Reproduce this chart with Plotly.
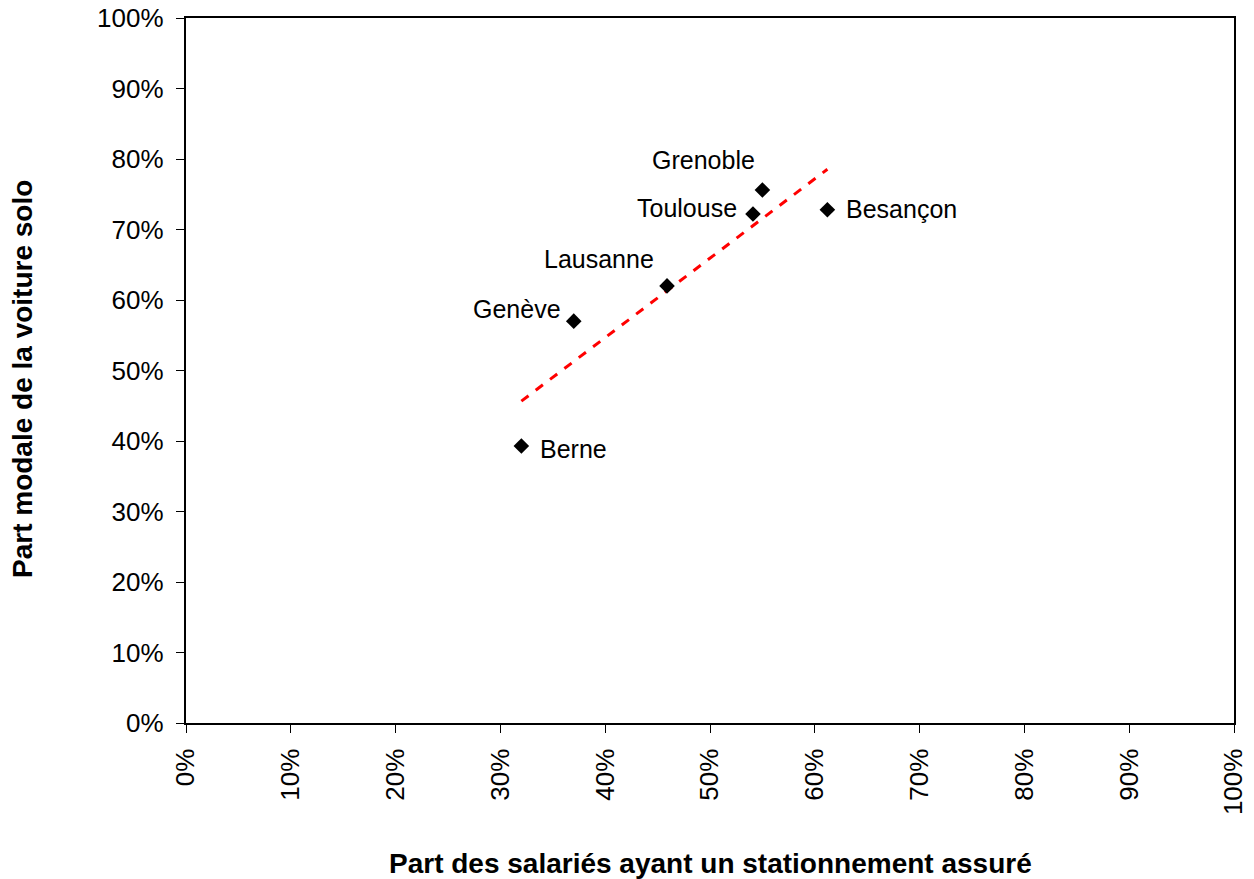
import numpy as np
import plotly.graph_objects as go

cities = ["Berne", "Genève", "Lausanne", "Toulouse", "Grenoble", "Besançon"]
parking_share = [0.32, 0.37, 0.459, 0.541, 0.55, 0.612]
car_share = [0.393, 0.570, 0.620, 0.722, 0.756, 0.728]
tick_vals = [i / 10 for i in range(11)]
tick_labels = [f"{i*10}%" for i in range(11)]

FONT = "Liberation Sans, Arial, sans-serif"

# label placement (anchor, pixel shift)
label_pos = {
    "Berne": ("left", "middle", 17, -3),
    "Genève": ("right", "middle", -11, 12),
    "Lausanne": ("center", "middle", -68, 27),
    "Toulouse": ("right", "middle", -14, 6),
    "Grenoble": ("center", "middle", -59, 30),
    "Besançon": ("left", "middle", 17, 1),
}

coef = np.polyfit(parking_share, car_share, 1)
xfit = np.array([min(parking_share), max(parking_share)])
yfit = np.polyval(coef, xfit)

fig = go.Figure()
fig.add_trace(go.Scatter(x=xfit, y=yfit, mode="lines",
                         line=dict(color="#ff0000", width=3, dash="dash"),
                         hoverinfo="skip", showlegend=False))
fig.add_trace(go.Scatter(x=parking_share, y=car_share, mode="markers",
                         marker=dict(symbol="diamond", size=12, color="black"),
                         showlegend=False))

for c, x, y in zip(cities, parking_share, car_share):
    xa, ya, dx, dy = label_pos[c]
    fig.add_annotation(x=x, y=y, text=c, showarrow=False, xanchor=xa, yanchor=ya,
                       xshift=dx, yshift=dy,
                       font=dict(family=FONT, size=25, color="black"))

axis_common = dict(range=[0, 1], tickvals=tick_vals,
                   showgrid=False, zeroline=False, showline=True, linecolor="black",
                   linewidth=2, mirror=True, ticks="outside", ticklen=8,
                   tickcolor="black", tickwidth=1, automargin=False,
                   ticklabeloverflow="allow",
                   tickfont=dict(family=FONT, size=26, color="black"))

fig.update_xaxes(**axis_common, tickangle=-90,
                 ticktext=[t + "\u2009" for t in tick_labels])
fig.update_yaxes(**axis_common,
                 ticktext=[t + "\u00a0" for t in tick_labels])

fig.add_annotation(xref="paper", yref="paper", x=0.5, y=-0.1986,
                   text="<b>Part des salariés ayant un stationnement assuré</b>",
                   showarrow=False, xanchor="center", yanchor="middle",
                   font=dict(family=FONT, size=28, color="black"))
fig.add_annotation(xref="paper", yref="paper", x=-0.1555, y=0.488,
                   text="<b>Part modale de la voiture solo</b>", textangle=-90,
                   showarrow=False, xanchor="center", yanchor="middle",
                   font=dict(family=FONT, size=28, color="black"))

fig.update_layout(width=1254, height=879, plot_bgcolor="white", paper_bgcolor="white",
                  margin=dict(l=178, r=28, t=10, b=164), showlegend=False)

fig.write_html("out.html")
